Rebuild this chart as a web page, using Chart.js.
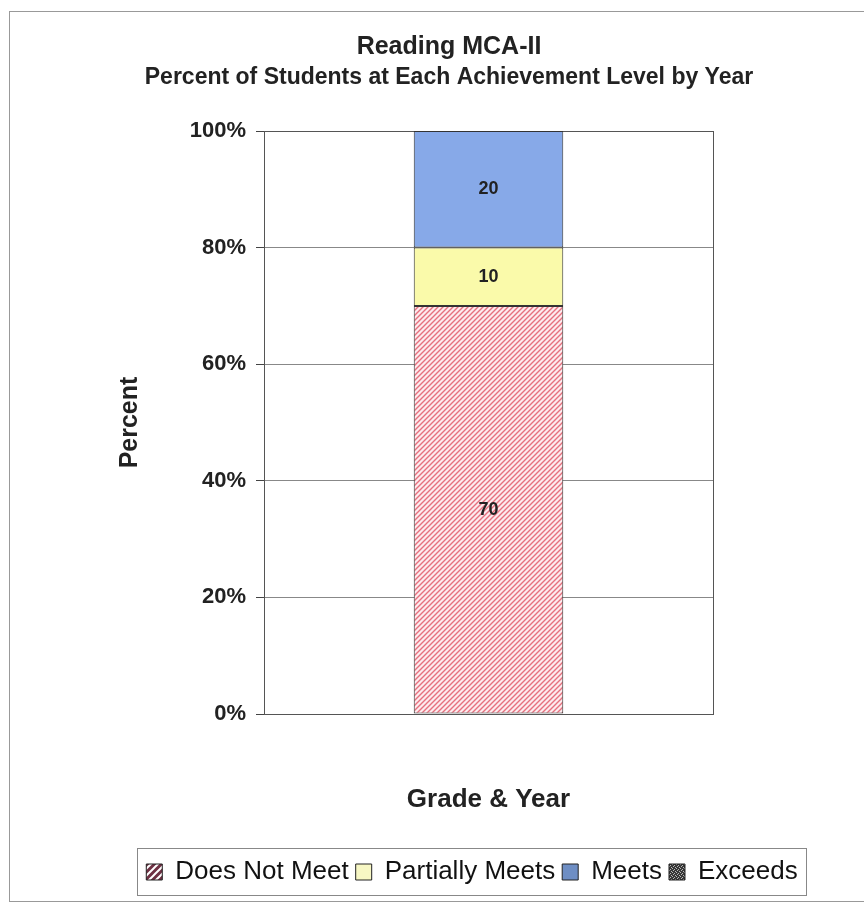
<!DOCTYPE html>
<html>
<head>
<meta charset="utf-8">
<title>Reading MCA-II</title>
<script src="https://cdn.jsdelivr.net/npm/chart.js@4.4.1/dist/chart.umd.min.js"></script>
<style>
  body { margin: 0; background: #fff; }
  canvas { display: block; }
</style>
</head>
<body>
<canvas id="chart" width="864" height="905"></canvas>
<script>
// chart data
const categories = [''];
const seriesNames = ['Does Not Meet', 'Partially Meets', 'Meets', 'Exceeds'];
const doesNotMeet = [70];
const partiallyMeets = [10];
const meets = [20];
const exceeds = [0];
const yMax = 100;
const yStep = 20;
const titleText = 'Reading MCA-II';
const subtitleText = 'Percent of Students at Each Achievement Level by Year';
const xTitle = 'Grade & Year';
const yTitle = 'Percent';

const FONT = "'Liberation Sans', Arial, sans-serif";
const TEXT = '#222';
const legendCenterX = 472;

// small fill patterns
function stripes(size, bg, fg, lw) {
  const c = document.createElement('canvas');
  c.width = size; c.height = size;
  const g = c.getContext('2d');
  g.fillStyle = bg;
  g.fillRect(0, 0, size, size);
  g.strokeStyle = fg;
  g.lineWidth = lw;
  g.beginPath();
  g.moveTo(0, size); g.lineTo(size, 0);
  g.moveTo(-2, 2); g.lineTo(2, -2);
  g.moveTo(size - 2, size + 2); g.lineTo(size + 2, size - 2);
  g.stroke();
  return g.createPattern(c, 'repeat');
}

function speckle() {
  const c = document.createElement('canvas');
  c.width = 4; c.height = 4;
  const g = c.getContext('2d');
  g.fillStyle = '#383838';
  g.fillRect(0, 0, 4, 4);
  g.fillStyle = '#b8b8b8';
  g.fillRect(0, 0, 1, 1); g.fillRect(2, 1, 1, 1);
  g.fillRect(1, 2, 1, 1); g.fillRect(3, 3, 1, 1);
  return g.createPattern(c, 'repeat');
}

const ctx = document.getElementById('chart').getContext('2d');
const hatch = stripes(5, '#fdebee', '#e6707e', 1.4);
const barFills = [hatch, '#fafaaa', '#87a9e8', speckle()];
const legendFills = [stripes(7, '#6e3043', '#ffffff', 2), '#f7f7c4', '#6e8ec4', speckle()];
const seriesData = [doesNotMeet, partiallyMeets, meets, exceeds];

// white background + outer frame
const framePlugin = {
  id: 'frame',
  beforeDraw(chart) {
    const c = chart.ctx;
    c.save();
    c.fillStyle = '#fff';
    c.fillRect(0, 0, chart.width, chart.height);
    c.strokeStyle = '#999';
    c.lineWidth = 1;
    c.strokeRect(9.5, 11.5, 900, 890);
    c.restore();
  },
  beforeDatasetsDraw(chart) {
    const a = chart.chartArea;
    const c = chart.ctx;
    c.save();
    c.strokeStyle = '#555';
    c.lineWidth = 1;
    c.strokeRect(Math.round(a.left) + 0.5, Math.round(a.top) + 0.5,
      Math.round(a.right - a.left), Math.round(a.bottom - a.top));
    c.restore();
  }
};

// numbers in the middle of each segment
const valuePlugin = {
  id: 'values',
  afterDatasetsDraw(chart) {
    const c = chart.ctx;
    c.save();
    c.font = 'bold 18px ' + FONT;
    c.fillStyle = TEXT;
    c.textAlign = 'center';
    c.textBaseline = 'middle';
    chart.data.datasets.forEach((ds, i) => {
      chart.getDatasetMeta(i).data.forEach((el, j) => {
        const v = ds.data[j];
        if (!v) return;
        const p = el.getCenterPoint();
        c.fillText(v, p.x, p.y);
      });
    });
    c.restore();
  }
};

// move the legend row and put a box round it
const legendBoxPlugin = {
  id: 'legendBox',
  afterLayout(chart) {
    const lg = chart.legend;
    const d = legendCenterX - (lg.left + lg.right) / 2;
    lg.left += d;
    lg.right += d;
  },
  afterDraw(chart) {
    const hb = chart.legend.legendHitBoxes;
    if (!hb || !hb.length) return;
    const left = Math.min(...hb.map(h => h.left)) - 9;
    const right = Math.max(...hb.map(h => h.left + h.width)) + 9;
    const top = Math.min(...hb.map(h => h.top)) - 11;
    const bottom = Math.max(...hb.map(h => h.top + h.height)) + 10;
    const c = chart.ctx;
    c.save();
    c.strokeStyle = '#888';
    c.lineWidth = 1;
    c.strokeRect(Math.round(left) + 0.5, Math.round(top) + 0.5, Math.round(right - left), Math.round(bottom - top));
    c.restore();
  }
};

const chart = new Chart(ctx, {
  type: 'bar',
  data: {
    labels: categories,
    datasets: seriesNames.map((name, i) => ({
      label: name,
      data: seriesData[i],
      backgroundColor: barFills[i],
      borderColor: '#333',
      borderWidth: 1,
      borderSkipped: false,
      barPercentage: 0.333,
      categoryPercentage: 1
    }))
  },
  options: {
    responsive: false,
    animation: false,
    layout: { padding: { left: 34, right: 0, top: 10, bottom: 10 } },
    plugins: {
      tooltip: { enabled: false },
      title: {
        display: true,
        text: titleText,
        color: TEXT,
        font: { family: FONT, size: 25, weight: 'bold' },
        padding: { top: 22, bottom: 0 }
      },
      subtitle: {
        display: true,
        text: subtitleText,
        color: TEXT,
        font: { family: FONT, size: 23, weight: 'bold' },
        padding: { top: 2, bottom: 39.4 }
      },
      legend: {
        position: 'bottom',
        labels: {
          boxWidth: 16,
          boxHeight: 16,
          padding: 7,
          color: '#111',
          font: { family: FONT, size: 26 },
          generateLabels(chart) {
            return Chart.defaults.plugins.legend.labels.generateLabels(chart).map((item, i) => {
              item.fillStyle = legendFills[i];
              item.strokeStyle = '#222';
              item.lineWidth = 1;
              return item;
            });
          }
        }
      }
    },
    scales: {
      x: {
        stacked: true,
        grid: { display: false, drawTicks: false },
        border: { display: true, color: '#444', width: 1 },
        ticks: { display: false },
        title: {
          display: true,
          text: xTitle,
          color: TEXT,
          font: { family: FONT, size: 26, weight: 'bold' },
          padding: { top: 70.4, bottom: 36.4 }
        }
      },
      y: {
        stacked: true,
        min: 0,
        max: yMax,
        ticks: {
          stepSize: yStep,
          callback: v => v + '%',
          color: TEXT,
          padding: 10,
          font: { family: FONT, size: 22, weight: 'bold' }
        },
        grid: { color: '#888', tickColor: '#444', tickLength: 8 },
        border: { color: '#444', width: 1 },
        title: {
          display: true,
          text: yTitle,
          color: TEXT,
          font: { family: FONT, size: 25, weight: 'bold' },
          padding: { top: 81, bottom: 0 }
        },
        afterFit(scale) { scale.width = 230; }
      },
      yRight: {
        position: 'right',
        display: true,
        grid: { display: false, drawTicks: false },
        border: { display: false },
        ticks: { display: false },
        afterFit(scale) { scale.width = 151; }
      }
    }
  },
  plugins: [framePlugin, valuePlugin, legendBoxPlugin]
});
</script>
</body>
</html>
